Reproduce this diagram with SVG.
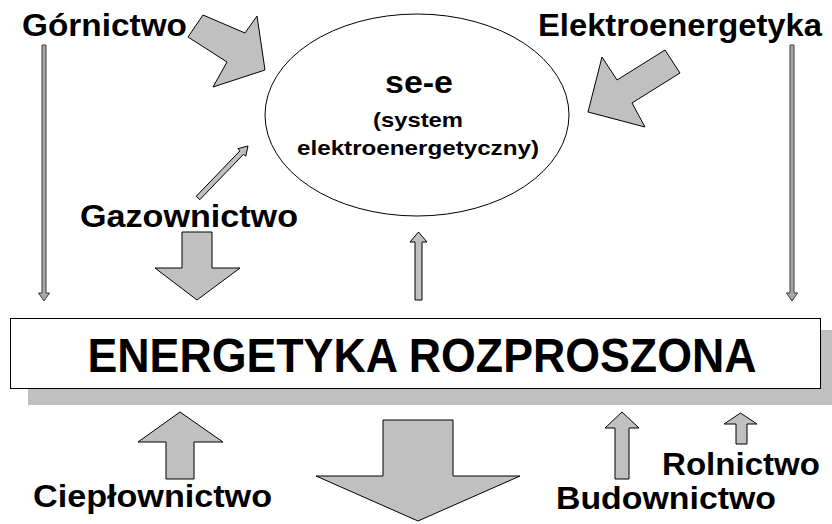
<svg xmlns="http://www.w3.org/2000/svg" width="832" height="524" viewBox="0 0 832 524">
  <style>
    .lbl { font-family: "Liberation Sans", Arial, Helvetica, sans-serif; font-weight: bold; fill: #000; }
    .big { fill: #c0c0c0; stroke: #000; stroke-width: 1; stroke-linejoin: miter; }
    .thin { fill: #a8a8a8; stroke: #3a3a3a; stroke-width: 1; }
  </style>
  <rect x="0" y="0" width="832" height="524" fill="#ffffff"/>

  <g id="connectors">
    <polygon class="big" points="203,15 245,33 257,16 265,70 213,87 227,62 188,37"/>
    <polygon class="big" points="665,50 680,73 632,103 645,127 588,112 602,57 617,80"/>
    <polygon class="thin" points="42,45 46,45 46,293 49.5,293 44,301 38.5,293 42,293"/>
    <polygon class="thin" points="790,45 794,45 794,293 797.5,293 792,301 786.5,293 790,293"/>
    <polygon class="big" points="196.2,196.3 240,150.8 237.8,148.7 248,146 245.7,156.3 243.6,154.2 199.8,199.7"/>
    <polygon class="big" points="182,232 212,232 212,268 240,268 197,300 155,268 182,268"/>
    <polygon class="big" points="415,300 422,300 422,242 427,242 418.5,232 410,242 415,242"/>
    <polygon class="big" points="180,412 223,442 194,442 194,479 166,479 166,442 138,442"/>
    <polygon class="big" points="383,420 453,420 453,476 520,476 418,521 316,476 383,476"/>
    <polygon class="big" points="622,412 639,428 629,428 629,479 615,479 615,428 605,428"/>
    <polygon class="big" points="740.5,413 757,424 747,424 747,444 736,444 736,424 724,424"/>
  </g>

  <g id="node-see">
    <ellipse cx="417" cy="115" rx="152" ry="101" fill="#ffffff" stroke="#000" stroke-width="1"/>
    <text class="lbl" x="419" y="93" font-size="31" text-anchor="middle" textLength="68" lengthAdjust="spacingAndGlyphs">se-e</text>
    <text class="lbl" x="418" y="127" font-size="21" text-anchor="middle" textLength="90" lengthAdjust="spacingAndGlyphs">(system</text>
    <text class="lbl" x="418" y="155" font-size="21" text-anchor="middle" textLength="242" lengthAdjust="spacingAndGlyphs">elektroenergetyczny)</text>
  </g>

  <g id="node-energetyka">
    <rect x="28" y="330" width="804" height="75" fill="#c0c0c0"/>
    <rect x="10.5" y="318.5" width="810" height="70" fill="#ffffff" stroke="#000" stroke-width="1"/>
    <text class="lbl" x="422" y="372" font-size="49" text-anchor="middle" textLength="669" lengthAdjust="spacingAndGlyphs">ENERGETYKA ROZPROSZONA</text>
  </g>

  <g id="node-gornictwo">
    <text class="lbl" x="22" y="36" font-size="31" textLength="165" lengthAdjust="spacingAndGlyphs">Górnictwo</text>
  </g>
  <g id="node-elektroenergetyka">
    <text class="lbl" x="538" y="36" font-size="31" textLength="284" lengthAdjust="spacingAndGlyphs">Elektroenergetyka</text>
  </g>
  <g id="node-gazownictwo">
    <text class="lbl" x="80" y="227" font-size="31" textLength="218" lengthAdjust="spacingAndGlyphs">Gazownictwo</text>
  </g>
  <g id="node-cieplownictwo">
    <text class="lbl" x="33" y="507" font-size="31" textLength="239" lengthAdjust="spacingAndGlyphs">Ciepłownictwo</text>
  </g>
  <g id="node-budownictwo">
    <text class="lbl" x="556" y="509" font-size="31" textLength="220" lengthAdjust="spacingAndGlyphs">Budownictwo</text>
  </g>
  <g id="node-rolnictwo">
    <text class="lbl" x="662" y="475" font-size="31" textLength="158" lengthAdjust="spacingAndGlyphs">Rolnictwo</text>
  </g>
</svg>
